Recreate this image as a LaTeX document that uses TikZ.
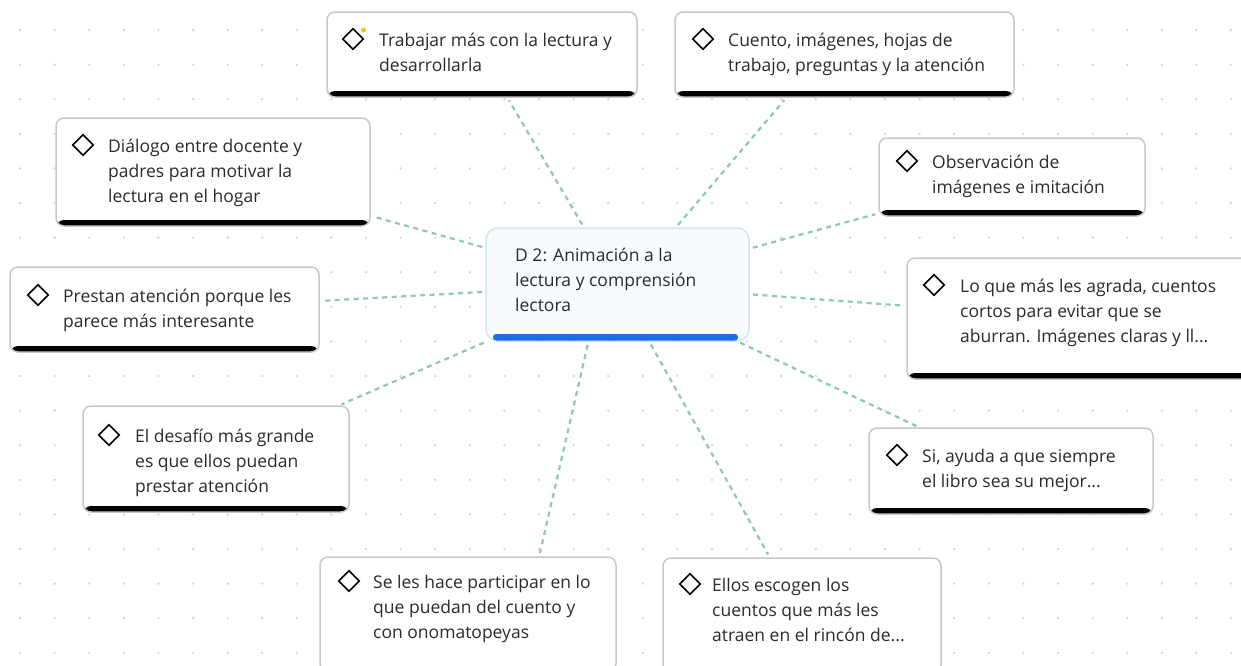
\documentclass[tikz,border=0pt]{standalone}
\usepackage{fontspec}
\newfontfamily\tf{Open Sans}
\usetikzlibrary{shapes.geometric,calc}
\definecolor{boxgray}{HTML}{C8C8C8}
\definecolor{txtgray}{HTML}{2B2B2B}
\definecolor{conncol}{HTML}{8CCAB2}
\definecolor{dotcol}{HTML}{D4D4D4}
\definecolor{rootfill}{HTML}{F8FBFD}
\definecolor{rootborder}{HTML}{D3E5EF}
\definecolor{rootbar}{HTML}{1A6FE0}
\definecolor{ydot}{HTML}{F5C518}
\tikzset{
  leafbox/.style={draw=boxgray, line width=1.5pt, fill=white, rounded corners=8pt,
    anchor=north west, inner sep=0pt, outer sep=0pt,
    path picture={\fill[black] ([yshift=6pt]path picture bounding box.south west) rectangle (path picture bounding box.south east);}},
  rootbox/.style={draw=rootborder, line width=1.5pt, fill=rootfill, rounded corners=12pt,
    anchor=north west, inner sep=0pt, outer sep=0pt},
  diam/.style={shape=diamond, draw=black, line width=1.6pt, minimum width=21pt, minimum height=21pt, inner sep=0pt},
  txt/.style={anchor=base west, inner sep=0pt, text=txtgray, font=\tf\fontsize{17.5}{25}\selectfont},
  conn/.style={draw=conncol, line width=2.2pt, dash pattern=on 5pt off 4.5pt, shorten <=4pt, shorten >=4pt},
}
\newcommand{\lines}[1]{\parbox[t]{360pt}{\raggedright #1}}
\begin{document}
\begin{tikzpicture}[x=1pt,y=-1pt]
\useasboundingbox (0,0) rectangle (1241,665);
\clip (0,0) rectangle (1241,665);
\fill[white] (0,0) rectangle (1241,665);
% dot grid
\foreach \i in {0,...,35}{
  \foreach \j in {0,...,18}{
    \fill[dotcol] (20+34.6*\i, 30+34.6*\j) circle (1.3pt);
  }
}
% root
\node[rootbox, minimum width=263pt, minimum height=113pt] (root) at (486,228) {};
% leaf boxes
\node[leafbox, minimum width=310pt, minimum height=85pt] (b1) at (327,12) {};
\node[leafbox, minimum width=339pt, minimum height=85pt] (b2) at (675,12) {};
\node[leafbox, minimum width=314pt, minimum height=108pt] (b3) at (56,118) {};
\node[leafbox, minimum width=266pt, minimum height=78pt] (b4) at (879,138) {};
\node[leafbox, minimum width=309pt, minimum height=85pt] (b5) at (10,267) {};
\node[leafbox, minimum width=345pt, minimum height=121pt] (b6) at (907,258) {};
\node[leafbox, minimum width=266pt, minimum height=106pt] (b7) at (83,406) {};
\node[leafbox, minimum width=284pt, minimum height=86pt] (b8) at (869,428) {};
\node[leafbox, minimum width=296pt, minimum height=115pt] (b9) at (320,557) {};
\node[leafbox, minimum width=278pt, minimum height=115pt] (b10) at (663,558) {};
% connectors
\draw[conn] (root) -- (b1);
\draw[conn] ($(root.north west)!0.72!(root.north east)$) -- ($(b2.south west)!0.33!(b2.south east)$);
\draw[conn] (root) -- (b3);
\draw[conn] (root) -- (b4);
\draw[conn] (root) -- (b5);
\draw[conn] (root) -- (b6);
\draw[conn] (root) -- (b7);
\draw[conn] (root) -- (b8);
\draw[conn] ($(root.south west)!0.39!(root.south east)$) -- ($(b9.north west)!0.74!(b9.north east)$);
\draw[conn] (root) -- (b10);
% root bar and text
\fill[rootbar, rounded corners=3pt] ([xshift=7pt, yshift=0.5pt]root.south west) rectangle ([xshift=-11pt, yshift=7pt]root.south east);
\node[txt] (rt) at (515,261) {\lines{D 2: Animación a la\\lectura y comprensión\\lectora}};
% diamonds
\node[diam] (d1) at (353,39) {};
\node[diam] (d2) at (703,39) {};
\node[diam] (d3) at (83,145) {};
\node[diam] (d4) at (907,161) {};
\node[diam] (d5) at (38,295) {};
\node[diam] (d6) at (934,285) {};
\node[diam] (d7) at (109,435) {};
\node[diam] (d8) at (897,455) {};
\node[diam] (d9) at (349,581) {};
\node[diam] (d10) at (690,584) {};
\node[circle, fill=ydot, minimum size=5pt, inner sep=0pt] (yd) at (363.5,30) {};
% texts
\node[txt] (t1) at (379,46.5) {\lines{Trabajar más con la lectura y\\desarrollarla}};
\node[txt] (t2) at (728,46.5) {\lines{Cuento, imágenes, hojas de\\trabajo, preguntas y la atención}};
\node[txt] (t3) at (108,152.5) {\lines{Diálogo entre docente y\\padres para motivar la\\lectura en el hogar}};
\node[txt] (t4) at (932,168) {\lines{Observación de\\imágenes e imitación}};
\node[txt] (t5) at (63,302.5) {\lines{Prestan atención porque les\\parece más interesante}};
\node[txt] (t6) at (960,292.5) {\lines{Lo que más les agrada, cuentos\\cortos para evitar que se\\aburran. Imágenes claras y ll...}};
\node[txt] (t7) at (135,442) {\lines{El desafío más grande\\es que ellos puedan\\prestar atención}};
\node[txt] (t8) at (922,462.5) {\lines{Si, ayuda a que siempre\\el libro sea su mejor...}};
\node[txt] (t9) at (373,588.5) {\lines{Se les hace participar en lo\\que puedan del cuento y\\con onomatopeyas}};
\node[txt] (t10) at (712,591) {\lines{Ellos escogen los\\cuentos que más les\\atraen en el rincón de...}};
\end{tikzpicture}
\end{document}
